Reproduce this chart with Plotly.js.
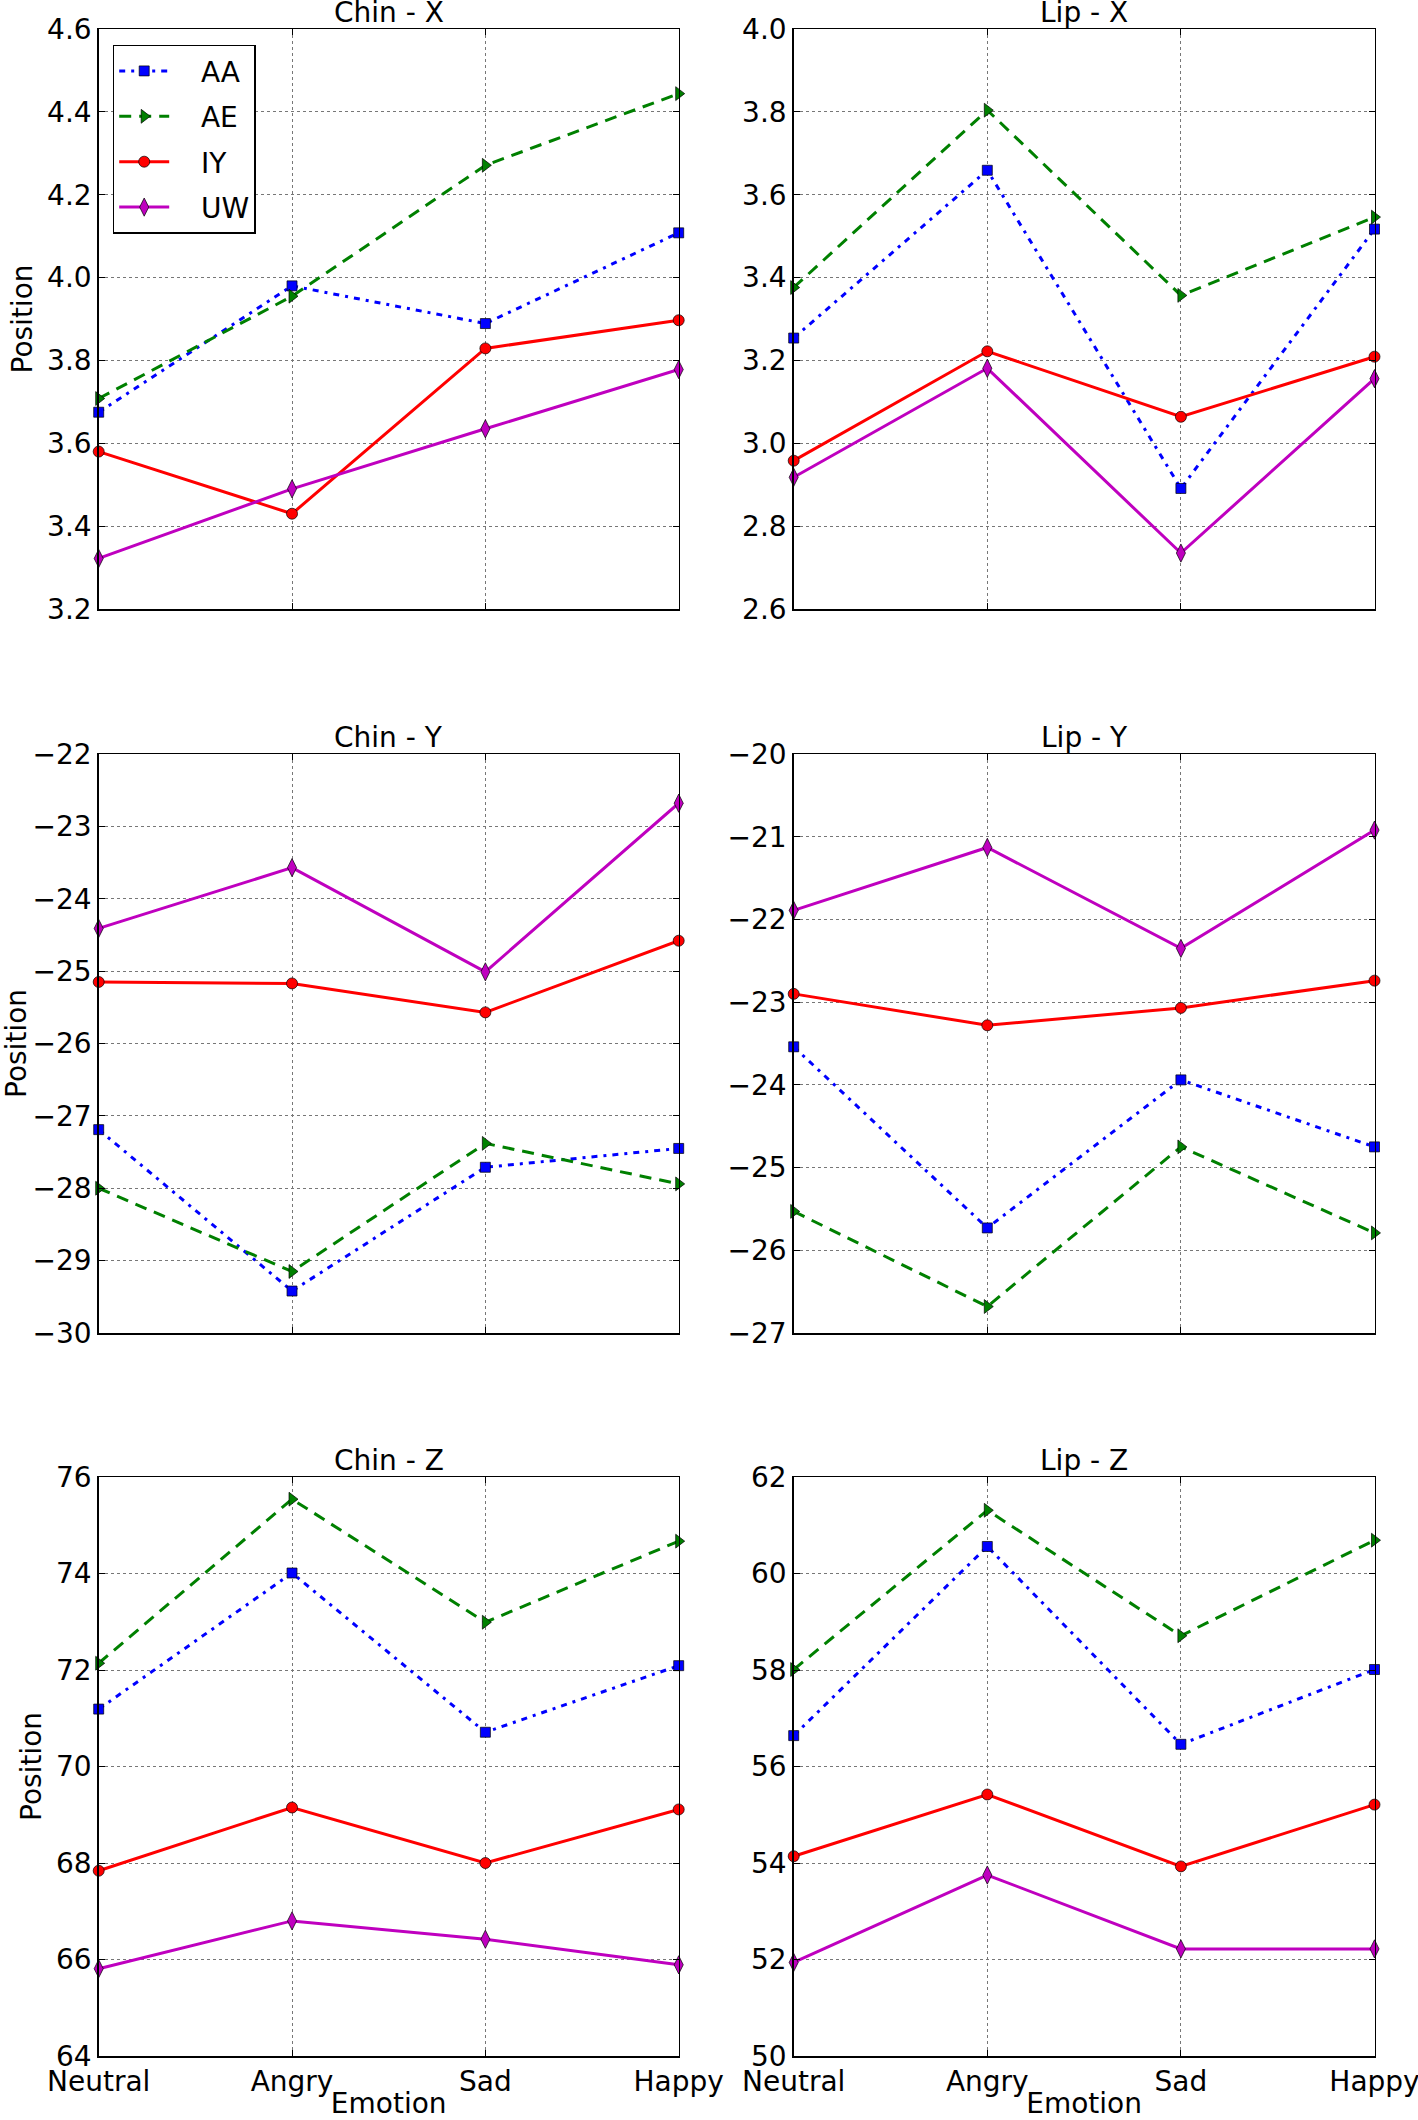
<!DOCTYPE html>
<html>
<head>
<meta charset="utf-8">
<script src="https://cdn.plot.ly/plotly-3.0.1.min.js"></script>
<style>
  body { margin: 0; background: #fff; }
  #chart { width: 1418px; height: 2120px; }
</style>
</head>
<body>
<div id="chart"></div>
<script>
const emotions = ['Neutral', 'Angry', 'Sad', 'Happy']
const phonemes = ['AA', 'AE', 'IY', 'UW']

// one row per phoneme, in the order of `phonemes`
const chinX = [
  [3.675, 3.98, 3.889, 4.108],
  [3.708, 3.955, 4.271, 4.444],
  [3.58, 3.43, 3.829, 3.897],
  [3.322, 3.49, 3.635, 3.778],
]
const lipX = [
  [3.254, 3.659, 2.891, 3.517],
  [3.376, 3.804, 3.357, 3.546],
  [2.958, 3.222, 3.064, 3.209],
  [2.918, 3.181, 2.735, 3.156],
]
const chinY = [
  [-27.19, -29.42, -27.71, -27.45],
  [-28.0, -29.15, -27.38, -27.94],
  [-25.15, -25.17, -25.57, -24.58],
  [-24.41, -23.57, -25.01, -22.68],
]
const lipY = [
  [-23.54, -25.73, -23.94, -24.75],
  [-25.53, -26.68, -24.75, -25.79],
  [-22.9, -23.28, -23.07, -22.74],
  [-21.89, -21.13, -22.35, -20.92],
]
const chinZ = [
  [71.19, 74.01, 70.71, 72.09],
  [72.14, 75.54, 72.99, 74.67],
  [67.84, 69.15, 68.0, 69.11],
  [65.81, 66.8, 66.42, 65.89],
]
const lipZ = [
  [56.64, 60.56, 56.46, 58.01],
  [58.01, 61.31, 58.71, 60.69],
  [54.14, 55.42, 53.93, 55.21],
  [51.94, 53.75, 52.22, 52.22],
]

const panels = [
  {title: 'Chin - X', data: chinX, range: [3.2, 4.6], dtick: 0.2, fmt: '.1f'},
  {title: 'Lip - X', data: lipX, range: [2.6, 4.0], dtick: 0.2, fmt: '.1f'},
  {title: 'Chin - Y', data: chinY, range: [-30, -22], dtick: 1, fmt: 'd'},
  {title: 'Lip - Y', data: lipY, range: [-27, -20], dtick: 1, fmt: 'd'},
  {title: 'Chin - Z', data: chinZ, range: [64, 76], dtick: 2, fmt: 'd'},
  {title: 'Lip - Z', data: lipZ, range: [50, 62], dtick: 2, fmt: 'd'},
]

const styles = [
  {color: '#0000ff', dash: '6px,6px,3px,6px', symbol: 'square', size: 10},
  {color: '#008000', dash: '12px,8px', symbol: 'triangle-right', size: 12},
  {color: '#ff0000', dash: 'solid', symbol: 'circle', size: 11},
  {color: '#bf00bf', dash: 'solid', symbol: 'diamond-tall', size: 13},
]

const W = 1418
const H = 2120
const colsPx = [[98.7, 678.7], [793.7, 1374.5]]
const rowsPx = [[29, 609], [754, 1333], [1477, 2056]]
const font = {family: 'DejaVu Sans, sans-serif', size: 28, color: '#000'}
// matplotlib leaves a gap between the line sample and the label
const pad = '\u00a0\u00a0\u00a0'

const traces = []
const annotations = []
const layout = {
  width: W,
  height: H,
  margin: {l: 0, r: 0, t: 0, b: 0, pad: 0},
  paper_bgcolor: '#fff',
  plot_bgcolor: '#fff',
  font: font,
  showlegend: true,
  legend: {
    x: 112.7 / W,
    y: 1 - 44.7 / H,
    xanchor: 'left',
    yanchor: 'top',
    bgcolor: '#fff',
    bordercolor: '#000',
    borderwidth: 1.5,
    font: font,
    itemwidth: 50,
    traceorder: 'grouped',
    tracegroupgap: 6,
  },
}

panels.forEach((p, i) => {
  const row = Math.floor(i / 2)
  const col = i % 2
  const n = i + 1
  const sfx = n === 1 ? '' : n
  const xd = colsPx[col].map((v) => v / W)
  const yd = [1 - rowsPx[row][1] / H, 1 - rowsPx[row][0] / H]
  const isBottom = row === 2

  const common = {
    showline: true,
    linecolor: '#000',
    linewidth: 1.5,
    mirror: 'ticks',
    ticks: 'inside',
    ticklen: 6,
    tickcolor: '#000',
    showgrid: true,
    gridcolor: '#777',
    griddash: 'dot',
    gridwidth: 1,
    zeroline: false,
    tickfont: font,
    fixedrange: true,
  }

  layout['xaxis' + sfx] = {
    ...common,
    domain: xd,
    anchor: 'y' + sfx,
    type: 'category',
    range: [0, 3],
    showticklabels: isBottom,
    title: isBottom ? {text: 'Emotion', font: font, standoff: 6} : {text: ''},
  }
  layout['yaxis' + sfx] = {
    ...common,
    domain: yd,
    anchor: 'x' + sfx,
    range: p.range,
    dtick: p.dtick,
    tick0: p.range[0],
    tickformat: p.fmt,
    title: col === 0 ? {text: 'Position', font: font, standoff: 6} : {text: ''},
  }

  annotations.push({
    text: p.title,
    xref: 'paper',
    yref: 'paper',
    x: (xd[0] + xd[1]) / 2,
    y: yd[1],
    xanchor: 'center',
    yanchor: 'bottom',
    yshift: -2,
    showarrow: false,
    font: font,
  })

  p.data.forEach((vals, k) => {
    const s = styles[k]
    traces.push({
      type: 'scatter',
      mode: 'lines+markers',
      x: emotions,
      y: vals,
      name: pad + phonemes[k],
      legendgroup: phonemes[k],
      showlegend: i === 0,
      xaxis: 'x' + sfx,
      yaxis: 'y' + sfx,
      line: {color: s.color, width: 3, dash: s.dash},
      marker: {
        symbol: s.symbol,
        size: s.size,
        color: s.color,
        line: {color: '#000', width: 0.7},
      },
      cliponaxis: false,
      hoverinfo: 'none',
    })
  })
})

layout.annotations = annotations

Plotly.newPlot('chart', traces, layout, {staticPlot: true})
</script>
</body>
</html>
